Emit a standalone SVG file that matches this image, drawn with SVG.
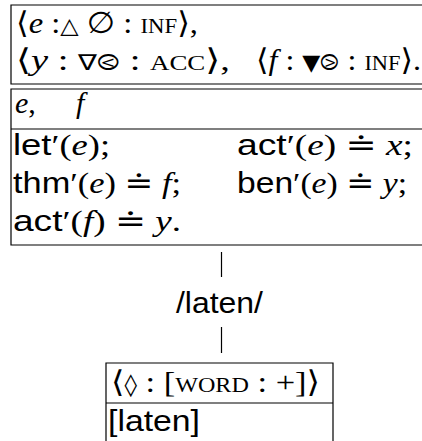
<svg xmlns="http://www.w3.org/2000/svg" width="422" height="441" viewBox="0 0 422 441">
  <style>
    .box { fill: none; stroke: #000; stroke-width: 1.2; }
    .rule { stroke: #000; stroke-width: 1.2; }
    .m { font-family: "Liberation Serif", "DejaVu Serif", "DejaVu Sans", serif; font-size: 30px; fill: #000; }
    .s { font-family: "Liberation Sans", "DejaVu Sans", sans-serif; font-size: 30px; fill: #000; }
    .i { font-style: italic; }
    .sc { font-size: 21px; }
    .sym { font-family: "DejaVu Sans", "Noto Sans", sans-serif; font-size: 22px; }
  </style>
  <rect width="422" height="441" fill="#fff"/>

  <!-- upper frame: referent declarations -->
  <g id="referents">
    <path class="box" d="M430,5 H11 V84 H430"/>
    <text class="m" x="16" y="33" textLength="182" lengthAdjust="spacingAndGlyphs">⟨<tspan class="i">e</tspan> :<tspan class="sym">△</tspan> ∅ : <tspan class="sc">INF</tspan>⟩,</text>
    <text class="m" x="16" y="70" textLength="214" lengthAdjust="spacingAndGlyphs">⟨<tspan class="i">y</tspan> : <tspan class="sym">∇⧀</tspan> : <tspan class="sc">ACC</tspan>⟩,</text>
    <text class="m" x="256" y="70" textLength="165" lengthAdjust="spacingAndGlyphs">⟨<tspan class="i">f</tspan> : <tspan class="sym">▼⧁</tspan> : <tspan class="sc">INF</tspan>⟩.</text>
  </g>

  <!-- DRS frame: universe and conditions -->
  <g id="drs">
    <path class="box" d="M430,89 H11 V245 H430"/>
    <line class="rule" x1="11" y1="129" x2="430" y2="129"/>
    <text class="m" x="15" y="113"><tspan class="i">e</tspan>,</text>
    <text class="m i" x="76" y="113">f</text>
    <text class="s" x="13" y="155" textLength="97" lengthAdjust="spacingAndGlyphs">let<tspan class="m">′(<tspan class="i">e</tspan>);</tspan></text>
    <text class="s" x="237" y="155" textLength="176" lengthAdjust="spacingAndGlyphs">act<tspan class="m">′(<tspan class="i">e</tspan>) ≐ <tspan class="i">x</tspan>;</tspan></text>
    <text class="s" x="13" y="193" textLength="168" lengthAdjust="spacingAndGlyphs">thm<tspan class="m">′(<tspan class="i">e</tspan>) ≐ <tspan class="i">f</tspan>;</tspan></text>
    <text class="s" x="237" y="193" textLength="170" lengthAdjust="spacingAndGlyphs">ben<tspan class="m">′(<tspan class="i">e</tspan>) ≐ <tspan class="i">y</tspan>;</tspan></text>
    <text class="s" x="13" y="231" textLength="168" lengthAdjust="spacingAndGlyphs">act<tspan class="m">′(<tspan class="i">f</tspan>) ≐ <tspan class="i">y</tspan>.</tspan></text>
  </g>

  <!-- phonological form -->
  <g id="phon">
    <text class="s" x="176" y="313" textLength="87" lengthAdjust="spacingAndGlyphs">/laten/</text>
  </g>

  <!-- lexical entry frame -->
  <g id="word">
    <path class="box" d="M106,445 V363 H333 V445"/>
    <line class="rule" x1="106" y1="403" x2="333" y2="403"/>
    <text class="m" x="111" y="392" textLength="209" lengthAdjust="spacingAndGlyphs">⟨<tspan class="sym">◊</tspan> : [<tspan class="sc">WORD</tspan> : +]⟩</text>
    <text class="s" x="108" y="431" textLength="92" lengthAdjust="spacingAndGlyphs">[laten]</text>
  </g>

  <!-- connectors -->
  <g id="connectors">
    <line class="rule" x1="221.5" y1="252" x2="221.5" y2="277"/>
    <line class="rule" x1="221.5" y1="327" x2="221.5" y2="353"/>
  </g>
</svg>
